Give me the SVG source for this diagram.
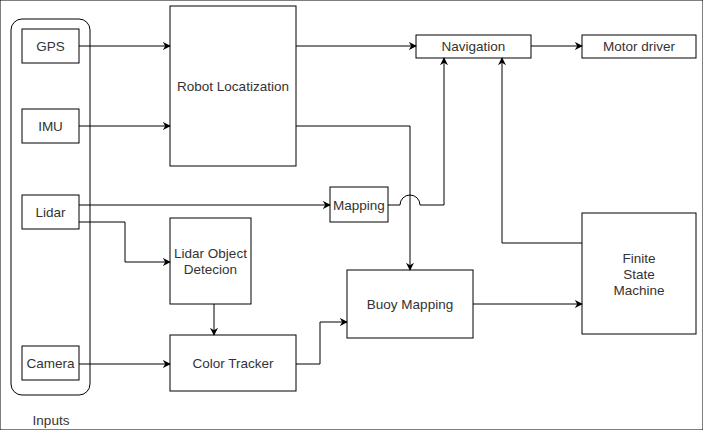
<svg xmlns="http://www.w3.org/2000/svg" width="703" height="430" viewBox="0 0 703 430">
<defs>
<marker id="arr" viewBox="0 0 10 10" refX="9" refY="5" markerWidth="8" markerHeight="8" markerUnits="userSpaceOnUse" orient="auto">
<path d="M0,0 L10,5 L0,10 L3,5 Z" fill="#000"/>
</marker>
</defs>
<style>
rect{fill:#fff;stroke:#000;stroke-width:1}
text{font-family:"Liberation Sans",Arial,sans-serif;font-size:13.5px;fill:#333;text-anchor:middle;dominant-baseline:central}
.c{fill:none;stroke:#000;stroke-width:1}
</style>
<rect width="703" height="430" fill="#fff" stroke="none"/>
<g id="inputs"><rect x="11" y="19" width="79" height="376" rx="11" ry="11"/><text x="51" y="420">Inputs</text></g>
<g id="gps"><rect x="22" y="29" width="57" height="34"/><text x="50.5" y="46">GPS</text></g>
<g id="imu"><rect x="22" y="109" width="57" height="34"/><text x="50.5" y="126">IMU</text></g>
<g id="lidar"><rect x="22" y="195" width="57" height="34"/><text x="50.5" y="212">Lidar</text></g>
<g id="camera"><rect x="22" y="346" width="57" height="34"/><text x="50.5" y="363">Camera</text></g>
<g id="robot-loc"><rect x="170" y="6" width="126" height="160"/><text x="233" y="86">Robot Locatization</text></g>
<g id="lidar-obj"><rect x="170" y="218" width="81" height="86"/><text x="210.5" y="253">Lidar Object</text><text x="210.5" y="269">Detecion</text></g>
<g id="color-tracker"><rect x="170" y="335" width="126" height="56"/><text x="233" y="363">Color Tracker</text></g>
<g id="mapping"><rect x="330" y="187" width="58" height="35"/><text x="359" y="205">Mapping</text></g>
<g id="navigation"><rect x="416" y="35" width="115" height="23"/><text x="473.5" y="46.5">Navigation</text></g>
<g id="motor-driver"><rect x="582" y="35" width="114" height="23"/><text x="639" y="46.5">Motor driver</text></g>
<g id="buoy-mapping"><rect x="347" y="270" width="126" height="68"/><text x="410" y="304">Buoy Mapping</text></g>
<g id="fsm"><rect x="582" y="213" width="114" height="121"/><text x="639" y="258">Finite</text><text x="639" y="274">State</text><text x="639" y="290">Machine</text></g>
<g id="connectors">
<path class="c" d="M79,46 H170" marker-end="url(#arr)"/>
<path class="c" d="M79,126 H170" marker-end="url(#arr)"/>
<path class="c" d="M79,205 H330" marker-end="url(#arr)"/>
<path class="c" d="M79,222 H125 V262 H170" marker-end="url(#arr)"/>
<path class="c" d="M214,304 V335" marker-end="url(#arr)"/>
<path class="c" d="M79,364 H170" marker-end="url(#arr)"/>
<path class="c" d="M296,364 H320 V322 H347" marker-end="url(#arr)"/>
<path class="c" d="M296,46 H416" marker-end="url(#arr)"/>
<path class="c" d="M296,126 H410 V270" marker-end="url(#arr)"/>
<path class="c" d="M388,205 H400 A10,10 0 0 1 420,205 H444 V58" marker-end="url(#arr)"/>
<path class="c" d="M531,46 H582" marker-end="url(#arr)"/>
<path class="c" d="M582,243 H502 V58" marker-end="url(#arr)"/>
<path class="c" d="M473,304 H582" marker-end="url(#arr)"/>
</g>
</svg>
